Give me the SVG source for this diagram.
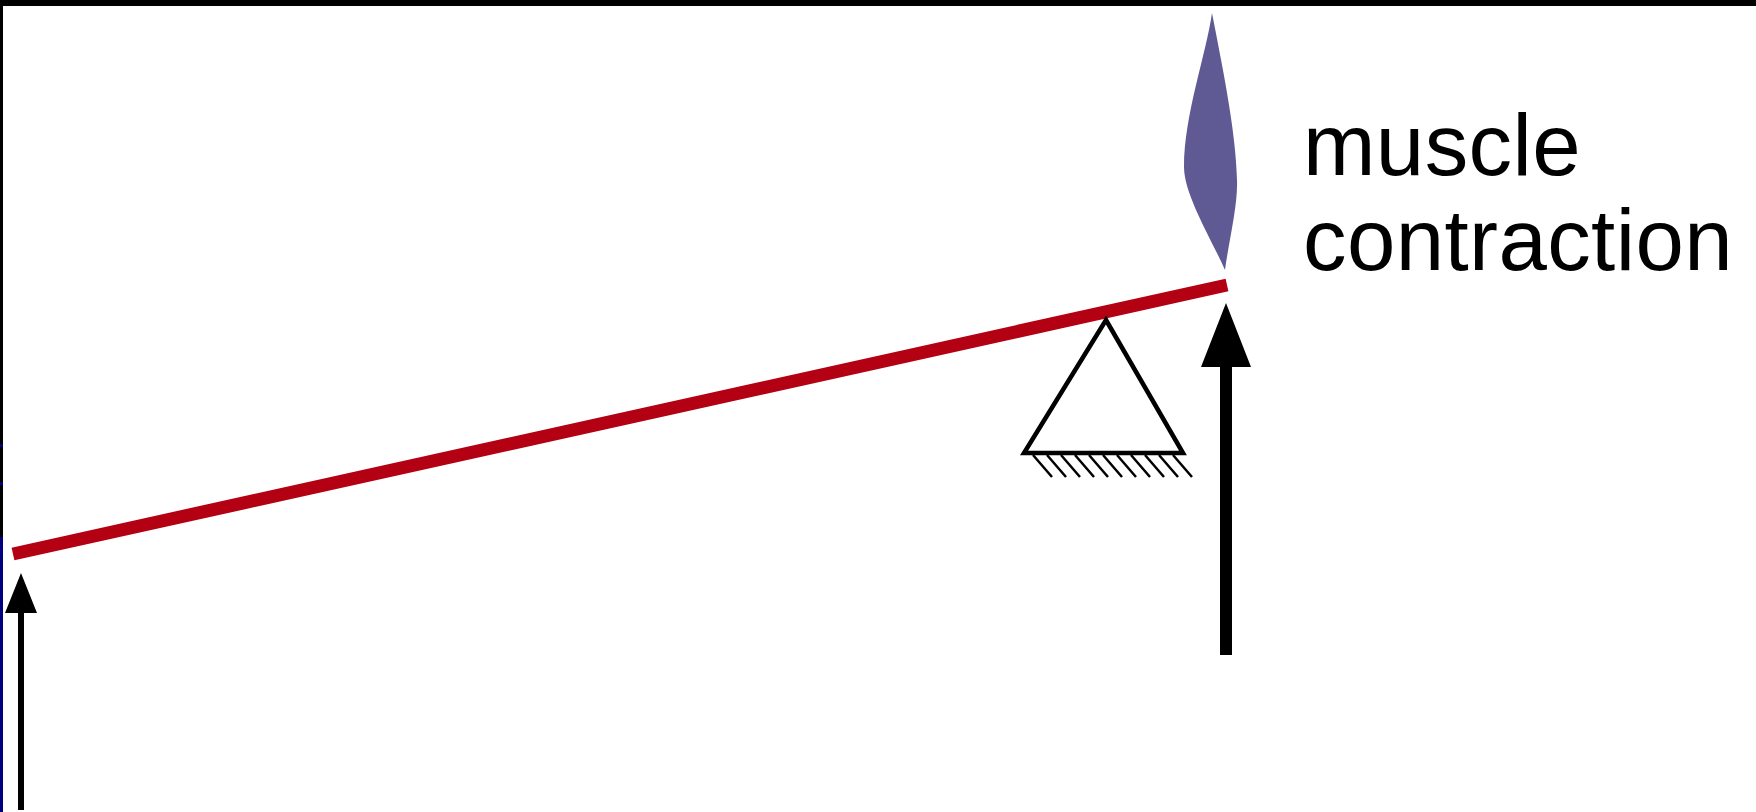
<svg xmlns="http://www.w3.org/2000/svg" width="1756" height="812" viewBox="0 0 1756 812">
<style>
.label{font-family:"Liberation Sans",Arial,sans-serif;font-size:87px;letter-spacing:.4px;fill:#000}
.force{fill:#000}
.hatch{stroke:#000;stroke-width:2.5;fill:none}
</style>
<rect width="1756" height="812" fill="#fff"/>
<rect width="1756" height="6" fill="#000"/>
<rect width="3" height="812" fill="#000"/>
<rect y="444" width="3" height="3" fill="#000080"/>
<rect y="482" width="3" height="3" fill="#000080"/>
<rect y="537" width="3" height="275" fill="#000080"/>
<g id="muscle"><path d="M1212 13C1206 55 1184 115 1184 167C1184 195 1212 240 1225 270C1229 240 1238 205 1237 180C1236 130 1221 60 1212 13Z" fill="#5f5a94"/></g>
<g id="beam"><line x1="13" y1="554" x2="1227" y2="285" stroke="#b30012" stroke-width="13"/></g>
<g id="fulcrum">
<path d="M1106 320L1024 453H1183Z" fill="#fff" stroke="#000" stroke-width="4.5"/>
<path class="hatch" d="M1033 455l19 22M1047 455l19 22M1061 455l19 22M1075 455l19 22M1089 455l19 22M1103 455l19 22M1117 455l19 22M1131 455l19 22M1145 455l19 22M1159 455l19 22M1173 455l19 22"/>
</g>
<g id="connectors">
<path class="force" d="M1226 303L1251 367H1232V655H1220V367H1201Z"/>
<path class="force" d="M21 573L37 613H24V810H18V613H5Z"/>
</g>
<g id="text"><text class="label" x="1303" y="175">muscle</text><text class="label" x="1303" y="270">contraction</text></g>
</svg>
